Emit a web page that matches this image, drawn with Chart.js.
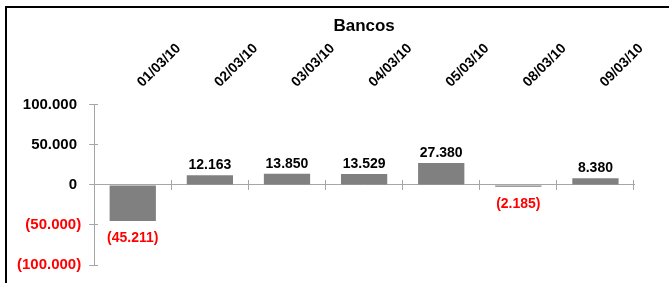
<!DOCTYPE html>
<html>
<head>
<meta charset="utf-8">
<script src="https://cdn.jsdelivr.net/npm/chart.js@4.4.0/dist/chart.umd.min.js"></script>
<style>
  html, body { margin: 0; padding: 0; background: #fff; overflow: hidden; }
  #box { position: absolute; left: 5px; top: 6px; width: 720px; height: 320px; border: 2px solid #000; }
  #wrap { position: absolute; left: 0; top: 0; width: 669px; height: 283px; }
</style>
</head>
<body>
<div id="box"></div>
<div id="wrap"><canvas id="chart"></canvas></div>
<script>
var dates = ['01/03/10', '02/03/10', '03/03/10', '04/03/10', '05/03/10', '08/03/10', '09/03/10'];
var values = [-45211, 12163, 13850, 13529, 27380, -2185, 8380];
var yMin = -100000;
var yMax = 100000;
var yStep = 50000;

var FONT = '"Liberation Sans", Arial, sans-serif';
var AXIS = '#a6a6a6';

function fmt(v) {
    var s = Math.abs(v).toString().replace(/\B(?=(\d{3})+(?!\d))/g, '.');
    return v < 0 ? '(' + s + ')' : s;
}

// value labels above / below each bar
var barLabels = {
    id: 'barLabels',
    afterDatasetsDraw: function (chart) {
        var ctx = chart.ctx;
        var meta = chart.getDatasetMeta(0);
        ctx.save();
        ctx.font = 'bold 14px ' + FONT;
        ctx.textAlign = 'center';
        ctx.textBaseline = 'alphabetic';
        meta.data.forEach(function (bar, i) {
            var v = values[i];
            if (v < 0) {
                ctx.fillStyle = '#ff0000';
                ctx.fillText(fmt(v), bar.x, bar.y + 21);
            } else {
                ctx.fillStyle = '#000';
                ctx.fillText(fmt(v), bar.x, bar.y - 6);
            }
        });
        ctx.restore();
    }
};

Chart.defaults.font.family = FONT;

var myChart = new Chart(document.getElementById('chart'), {
    type: 'bar',
    data: {
        labels: dates,
        datasets: [{
            label: 'Bancos',
            data: values,
            backgroundColor: '#808080',
            borderWidth: 0,
            barPercentage: 0.6,
            categoryPercentage: 1
        }]
    },
    options: {
        responsive: true,
        maintainAspectRatio: false,
        animation: false,
        layout: { padding: { left: 9, right: 35, top: 8, bottom: 18 } },
        plugins: {
            legend: { display: false },
            tooltip: { enabled: false },
            title: {
                display: true,
                text: 'Bancos',
                color: '#000',
                fullSize: false,
                font: { size: 17, weight: 'bold' },
                padding: { top: 8, bottom: -2 }
            }
        },
        scales: {
            x: {
                position: 'top',
                offset: true,
                grid: { display: false },
                border: { display: false },
                ticks: {
                    autoSkip: false,
                    minRotation: 45,
                    maxRotation: 45,
                    padding: 6,
                    labelOffset: 19,
                    color: '#000',
                    font: { size: 14, weight: 'bold' }
                }
            },
            x2: {
                type: 'category',
                position: { y: 0 },
                offset: true,
                grid: { offset: true, drawOnChartArea: false, tickLength: 5, color: AXIS },
                border: { color: AXIS },
                ticks: { display: false }
            },
            x3: {
                type: 'category',
                position: { y: 0 },
                offset: true,
                grid: { offset: true, drawOnChartArea: false, tickLength: -5, color: AXIS },
                border: { display: false },
                ticks: { display: false }
            },
            y: {
                min: yMin,
                max: yMax,
                grid: { drawOnChartArea: false, tickLength: 5, color: AXIS },
                border: { color: AXIS },
                ticks: {
                    stepSize: yStep,
                    padding: 8,
                    font: { size: 15, weight: 'bold' },
                    color: function (c) { return c.tick.value < 0 ? '#ff0000' : '#000'; },
                    callback: function (v) { return v < 0 ? fmt(v) : fmt(v) + ' '; }
                }
            },
            y2: {
                position: { x: -0.5 },
                min: yMin,
                max: yMax,
                grid: { drawOnChartArea: false, tickLength: -4, color: AXIS },
                border: { display: false },
                ticks: { display: false, stepSize: yStep }
            }
        }
    },
    plugins: [barLabels]
});
</script>
</body>
</html>
